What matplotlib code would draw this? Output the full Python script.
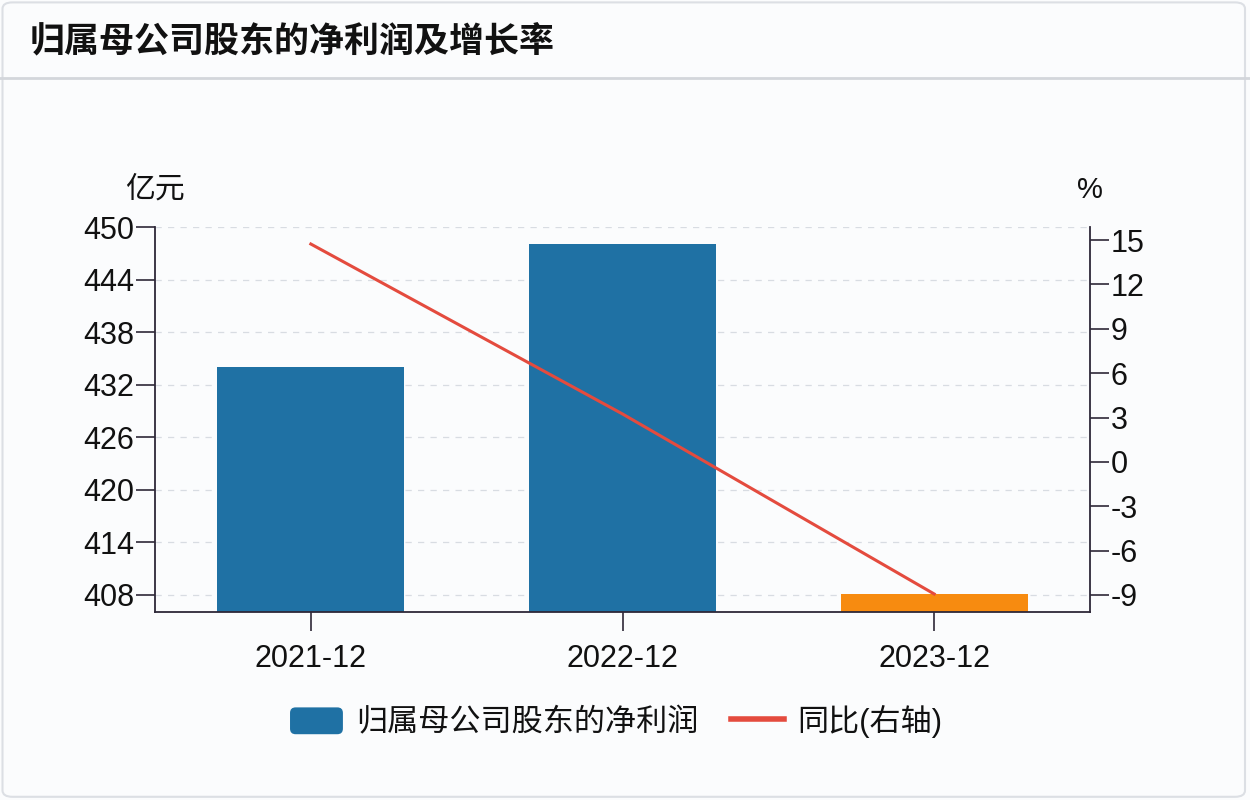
import matplotlib
matplotlib.use("Agg")
import matplotlib.pyplot as plt
from matplotlib.patches import FancyBboxPatch, Patch
from matplotlib.lines import Line2D
from matplotlib.legend_handler import HandlerPatch
import numpy as np

plt.rcParams['font.family'] = ['Liberation Sans', 'Noto Sans CJK SC', 'DejaVu Sans']
plt.rcParams['axes.unicode_minus'] = False

# data
periods = ["2021-12", "2022-12", "2023-12"]
net_profit = [434.05, 448.1, 408.1]          # 亿元
yoy_growth = [14.73, 3.24, -8.93]            # %
bar_colors = ["#1f71a4", "#1f71a4", "#f78b10"]
left_ticks = [408, 414, 420, 426, 432, 438, 444, 450]
right_ticks = [-9, -6, -3, 0, 3, 6, 9, 12, 15]

title = "归属母公司股东的净利润及增长率"
bar_label = "归属母公司股东的净利润"
line_label = "同比(右轴)"

fig = plt.figure(figsize=(12.5, 8), dpi=100)
fig.patch.set_facecolor("#fbfcfd")

# card frame + header separator
fig.patches.append(FancyBboxPatch((0.002, 0.004), 0.994, 0.993,
                                  boxstyle="round,pad=0,rounding_size=0.008",
                                  transform=fig.transFigure, facecolor="none",
                                  edgecolor="#dcdfe4", linewidth=1.5))
fig.add_artist(Line2D([0.0, 1.0], [1 - 78 / 800, 1 - 78 / 800], transform=fig.transFigure,
                      color="#d3d6db", linewidth=2))
fig.text(30 / 1250, 1 - 43 / 800, title, fontsize=25.2, fontweight="bold",
         ha="left", va="center", color="#111111")

ax = fig.add_axes([155 / 1250, 1 - 612.3 / 800, (1090 - 155) / 1250, (612.3 - 227.3) / 800])
ax.set_facecolor("none")
x = np.arange(len(periods))
ymin = 406
bars = ax.bar(x, np.array(net_profit) - ymin, bottom=ymin, width=0.6, color=bar_colors, zorder=2)
ax.set_xlim(-0.5, 2.5)
ax.set_ylim(ymin, 450)
ax.set_yticks(left_ticks)
ax.set_xticks(x)
ax.set_xticklabels(periods)
ax.grid(axis="y", color="#d8dce2", linestyle=(0, (5, 5)), linewidth=0.9, zorder=0)
ax.set_axisbelow(True)

spine_c = "#2e2838"
for s in ["left", "bottom"]:
    ax.spines[s].set_color(spine_c)
    ax.spines[s].set_linewidth(1.3)
for s in ["top", "right"]:
    ax.spines[s].set_visible(False)
ax.tick_params(axis="y", length=14, width=1.2, pad=1, labelsize=22, color=spine_c, labelcolor="#111111")
ax.tick_params(axis="x", length=14, width=1.2, pad=9, labelsize=22, color=spine_c, labelcolor="#111111")

ax2 = ax.twinx()
ax2.plot(x, yoy_growth, color="#e44b3e", linewidth=2.2, zorder=3)
ax2.set_ylim(-10.17, 15.86)
ax2.set_yticks(right_ticks)
for s in ["top", "left", "bottom"]:
    ax2.spines[s].set_visible(False)
ax2.spines["right"].set_color(spine_c)
ax2.spines["right"].set_linewidth(1.3)
ax2.tick_params(axis="y", length=14, width=1.2, pad=1, labelsize=22, color=spine_c, labelcolor="#111111")

fig.text(155 / 1250, 1 - 190 / 800, "亿元", fontsize=21.5, ha="center", va="center", color="#111111")
fig.text(1090 / 1250, 1 - 190 / 800, "%", fontsize=21, ha="center", va="center", color="#111111")


def rounded_patch(legend, orig_handle, xdescent, ydescent, width, height, fontsize):
    return FancyBboxPatch((-xdescent, -ydescent), width, height,
                          boxstyle="round,pad=0,rounding_size=4")


handles = [Patch(facecolor="#1f71a4", edgecolor="none"),
           Line2D([], [], color="#e44b3e", linewidth=4)]
fig.legend(handles, [bar_label, line_label], loc="center",
           bbox_to_anchor=(616 / 1250, 1 - 722 / 800), ncol=2, frameon=False,
           fontsize=22.4, handlelength=1.7, handleheight=0.95, handletextpad=0.42,
           columnspacing=1.05, labelcolor="#111111",
           handler_map={Patch: HandlerPatch(patch_func=rounded_patch)})

fig.savefig("out.png", dpi=100, facecolor=fig.get_facecolor())
